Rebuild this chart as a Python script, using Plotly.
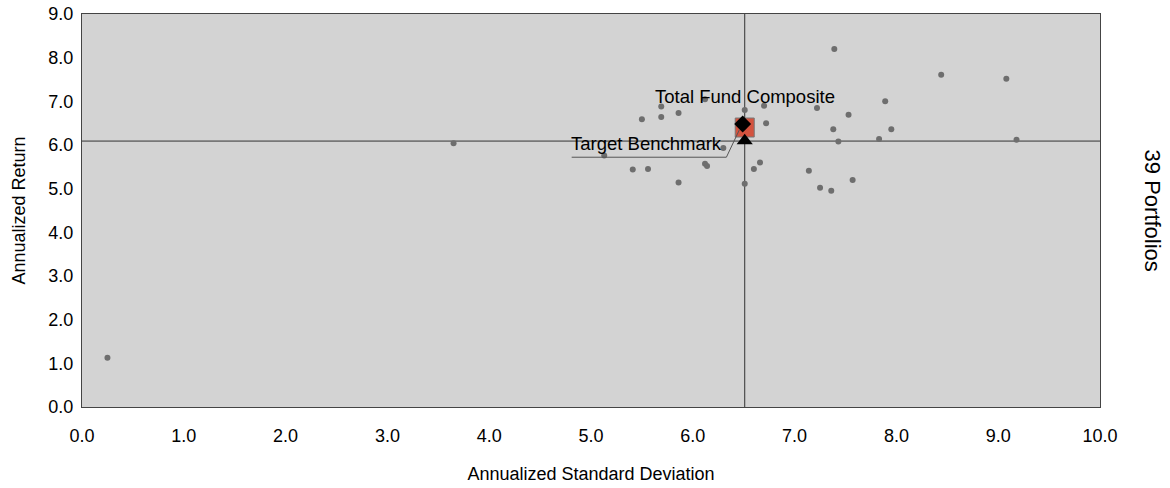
import plotly.graph_objects as go

# Universe portfolios (annualized std dev, annualized return)
universe_sd = [0.25, 3.65, 5.50, 5.69, 5.69, 5.86, 6.12, 6.51, 6.70, 6.72,
               5.13, 6.30, 6.12, 6.14, 5.41, 5.56, 5.86, 6.51, 6.60, 6.66,
               7.39, 8.44, 9.08, 7.22, 7.89, 7.53, 7.38, 7.95, 7.43, 7.83,
               9.18, 7.14, 7.57, 7.25, 7.36]
universe_ret = [1.13, 6.04, 6.59, 6.88, 6.64, 6.73, 7.05, 6.80, 6.90, 6.50,
                5.76, 5.93, 5.57, 5.52, 5.44, 5.45, 5.14, 5.11, 5.45, 5.60,
                8.20, 7.61, 7.52, 6.85, 7.00, 6.69, 6.36, 6.36, 6.08, 6.14,
                6.12, 5.41, 5.20, 5.02, 4.95]

composite_sd = [6.51]
composite_ret = [6.40]
fund_sd = [6.49]
fund_ret = [6.48]
benchmark_sd = [6.51]
benchmark_ret = [6.10]

x_ticks = [0, 1, 2, 3, 4, 5, 6, 7, 8, 9, 10]
y_ticks = [0, 1, 2, 3, 4, 5, 6, 7, 8, 9]

FONT = "Liberation Sans, Arial, sans-serif"

fig = go.Figure()
fig.add_trace(go.Scatter(x=universe_sd, y=universe_ret, mode="markers",
                         marker=dict(color="#6e6e6e", size=6), hoverinfo="x+y",
                         showlegend=False))
fig.add_trace(go.Scatter(x=composite_sd, y=composite_ret, mode="markers",
                         marker=dict(symbol="square", color="#d4533f", size=19,
                                     line=dict(color="#777777", width=1)),
                         showlegend=False))
fig.add_trace(go.Scatter(x=fund_sd, y=fund_ret, mode="markers",
                         marker=dict(symbol="diamond", color="black", size=13),
                         showlegend=False))
fig.add_trace(go.Scatter(x=benchmark_sd, y=benchmark_ret, mode="markers",
                         marker=dict(symbol="triangle-up", color="black", size=14),
                         showlegend=False))

# crosshair lines at benchmark
fig.add_shape(type="line", xref="x", yref="paper", x0=benchmark_sd[0], x1=benchmark_sd[0],
              y0=0, y1=1, line=dict(color="#333333", width=1), layer="below")
fig.add_shape(type="line", xref="paper", yref="y", x0=0, x1=1,
              y0=benchmark_ret[0] - 0.01, y1=benchmark_ret[0] - 0.01,
              line=dict(color="#333333", width=1), layer="below")

# leader line for Target Benchmark label
bx, by = benchmark_sd[0], benchmark_ret[0]
fig.add_shape(type="path", xref="x", yref="y",
              path=f"M {bx-1.70},{by-0.38} L {bx-0.18},{by-0.38} L {bx-0.05},{by+0.26}",
              line=dict(color="#555555", width=1))

fig.add_annotation(x=fund_sd[0] + 0.02, y=fund_ret[0] + 0.62, text="Total Fund Composite",
                   showarrow=False, font=dict(family=FONT, size=18.5, color="black"))
fig.add_annotation(x=bx - 0.96, y=by - 0.07, text="Target Benchmark",
                   showarrow=False, font=dict(family=FONT, size=18.5, color="black"))

fig.add_annotation(xref="paper", yref="paper", x=1.052, y=0.5, text="39 Portfolios",
                   textangle=90, showarrow=False, xanchor="center",
                   font=dict(family=FONT, size=22, color="black"))

fig.update_layout(
    template="none",
    width=1170, height=488,
    margin=dict(l=82, r=70, t=14, b=81),
    paper_bgcolor="white", plot_bgcolor="#d3d3d3",
    font=dict(family=FONT, size=18, color="black"),
    xaxis=dict(range=[0, 10], tickvals=x_ticks, tickformat=".1f", showgrid=False,
               zeroline=False, showline=True, linecolor="#444444", linewidth=1, mirror=True,
               ticks="", ticklabelstandoff=12, automargin=False, ticklabeloverflow="allow",
               title=dict(text="Annualized Standard Deviation", standoff=22,
                          font=dict(family=FONT, size=18))),
    yaxis=dict(range=[0, 9], tickvals=y_ticks, tickformat=".1f", showgrid=False,
               zeroline=False, showline=True, linecolor="#444444", linewidth=1, mirror=True,
               ticks="", ticklabelstandoff=4, automargin=False, ticklabeloverflow="allow",
               title=dict(text="Annualized Return", standoff=18,
                          font=dict(family=FONT, size=18))),
)

fig.write_html("out.html", config={"displayModeBar": False},
               post_script="document.body.style.margin='0';")
